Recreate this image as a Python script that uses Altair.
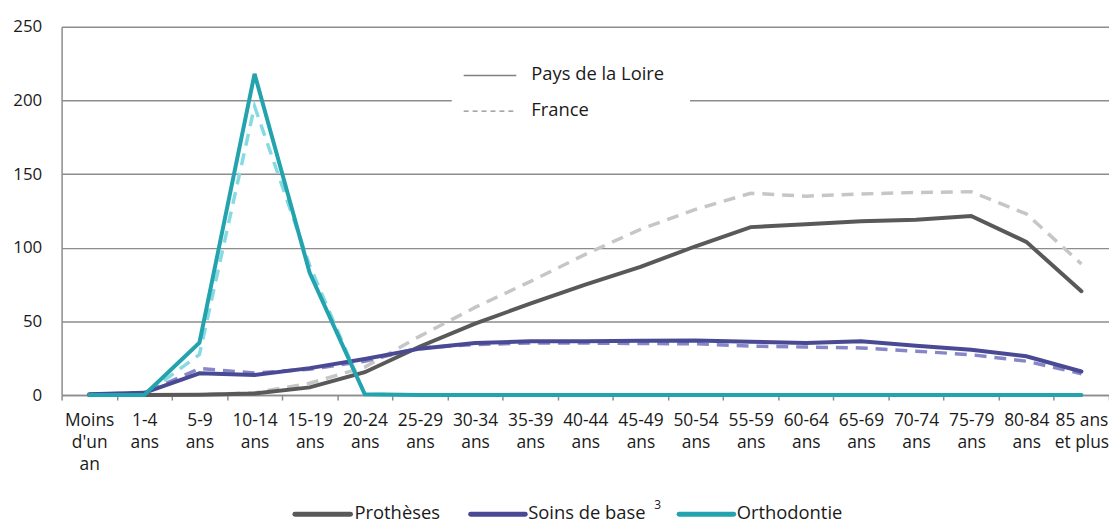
import altair as alt
import pandas as pd

ages = ["Moins d'un an", "1-4 ans", "5-9 ans", "10-14 ans", "15-19 ans", "20-24 ans",
        "25-29 ans", "30-34 ans", "35-39 ans", "40-44 ans", "45-49 ans", "50-54 ans",
        "55-59 ans", "60-64 ans", "65-69 ans", "70-74 ans", "75-79 ans", "80-84 ans",
        "85 ans et plus"]

protheses_pdl = [0, 0, 0.2, 1, 5.2, 15.5, 33, 48.5, 62, 75, 87, 101, 114, 116, 118, 119, 121.5, 104, 70.5]
protheses_fr = [0, 0, 0.3, 1.5, 8, 19, 40, 59.5, 77, 95.5, 112.5, 126, 137, 135, 136.5, 137.5, 138, 123, 89]
soins_pdl = [0.5, 1.5, 14.8, 13.6, 18.3, 24.5, 31.5, 35.3, 36.5, 36.5, 36.8, 37, 36.2, 35.3, 36.5, 33.5, 30.8, 26.3, 16]
soins_fr = [0.5, 1.5, 18, 15, 17.5, 23, 32, 34.3, 35.3, 35.3, 35, 34.8, 33.2, 32.6, 32, 29.8, 27.4, 23, 14.5]
ortho_pdl = [0, 0, 35.5, 218, 83, 0.5, 0, 0, 0, 0, 0, 0, 0, 0, 0, 0, 0, 0, 0]
ortho_fr = [0, 0, 27.5, 196, 88, 0.5, 0, 0, 0, 0, 0, 0, 0, 0, 0, 0, 0, 0, 0]

legend_regions = ["Pays de la Loire", "France"]
legend_actes = ["Prothèses", "Soins de base", "Orthodontie"]
superscript = ["3"]

FONT = "Open Sans"
GRID = "#8c8c8c"
TXT = "#1a1a1a"

x_enc = alt.X(
    "age:N", sort=ages, bandPosition=0.5, title=None,
    scale=alt.Scale(type="band", domain=ages, paddingInner=0, paddingOuter=0),
    axis=alt.Axis(
        labelAngle=0, tickBand="extent", grid=False, tickSize=5, tickColor=GRID,
        domainColor=GRID, domainWidth=1.5, tickWidth=1.5,
        labelExpr="datum.label == '85 ans et plus' ? ['85 ans', 'et plus'] : split(datum.label, ' ')",
        labelFont=FONT, labelFontSize=17.5, labelColor=TXT, labelLineHeight=22,
        labelPadding=12, labelLimit=0,
    ),
)
y_enc = alt.Y(
    "value:Q", title=None,
    scale=alt.Scale(domain=[0, 250], nice=False, zero=True),
    axis=alt.Axis(
        values=[0, 50, 100, 150, 200, 250], grid=True, gridColor=GRID, gridWidth=1.5,
        ticks=False, tickSize=0, domainColor=GRID, domainWidth=1.5,
        labelFont=FONT, labelFontSize=17, labelColor=TXT, labelPadding=20,
    ),
)


def series(vals, color, width, dash=None):
    df = pd.DataFrame({"age": ages, "value": vals})
    kw = dict(color=color, strokeWidth=width)
    if dash is not None:
        kw["strokeDash"] = dash
        kw["strokeCap"] = "butt"
    else:
        kw["strokeCap"] = "round"
    return alt.Chart(df).mark_line(**kw).encode(x=x_enc, y=y_enc)


def one():
    return pd.DataFrame({"k": [0]})


# top legend (line style)
box = alt.Chart(one()).mark_rect(fill="white").encode(
    x=alt.value(393), x2=alt.value(633), y=alt.value(30), y2=alt.value(100))
leg_solid = alt.Chart(one()).mark_rule(color="#808080", strokeWidth=1.5).encode(
    x=alt.value(405), x2=alt.value(458), y=alt.value(49))
leg_dash = alt.Chart(one()).mark_rule(color="#8c8c8c", strokeWidth=1.5, strokeDash=[5, 4]).encode(
    x=alt.value(405), x2=alt.value(458), y=alt.value(85))
leg_t1 = alt.Chart(pd.DataFrame({"t": [legend_regions[0]]})).mark_text(
    font=FONT, fontSize=18.5, align="left", baseline="middle", color=TXT).encode(
    text="t:N", x=alt.value(473), y=alt.value(48))
leg_t2 = alt.Chart(pd.DataFrame({"t": [legend_regions[1]]})).mark_text(
    font=FONT, fontSize=18.5, align="left", baseline="middle", color=TXT).encode(
    text="t:N", x=alt.value(473), y=alt.value(84))

# bottom legend (acts)
acte_colors = ["#595959", "#4a4a94", "#22a3ad"]
line_x = [(235, 291), (412, 467), (622, 677)]
text_x = [295, 470, 680]
bottom = []
for name, col, (xa, xb), tx in zip(legend_actes, acte_colors, line_x, text_x):
    bottom.append(alt.Chart(one()).mark_rule(
        color=col, strokeWidth=5, strokeCap="round").encode(
        x=alt.value(xa), x2=alt.value(xb), y=alt.value(491)))
    bottom.append(alt.Chart(pd.DataFrame({"t": [name]})).mark_text(
        font=FONT, fontSize=18.5, align="left", baseline="middle", color=TXT).encode(
        text="t:N", x=alt.value(tx), y=alt.value(490)))
sup = alt.Chart(pd.DataFrame({"t": superscript})).mark_text(
    font=FONT, fontSize=12, align="left", baseline="middle", color=TXT).encode(
    text="t:N", x=alt.value(597), y=alt.value(482))

chart = alt.layer(
    box,
    series(protheses_fr, "#c6c6c6", 3.5, [12, 8]),
    series(soins_fr, "#8686c8", 3.5, [12, 8]),
    series(ortho_fr, "#86dae2", 3.5, [12, 8]),
    series(protheses_pdl, "#595959", 4),
    series(soins_pdl, "#4a4a94", 4),
    series(ortho_pdl, "#22a3ad", 4),
    leg_solid, leg_dash, leg_t1, leg_t2,
    *bottom, sup,
).properties(
    width=1055, height=371,
    autosize=alt.AutoSizeParams(type="none"),
    padding={"left": 54, "top": 17, "right": 0, "bottom": 128},
).configure_view(stroke=None)

chart.save("out.html", embed_options={"renderer": "svg", "actions": False})
